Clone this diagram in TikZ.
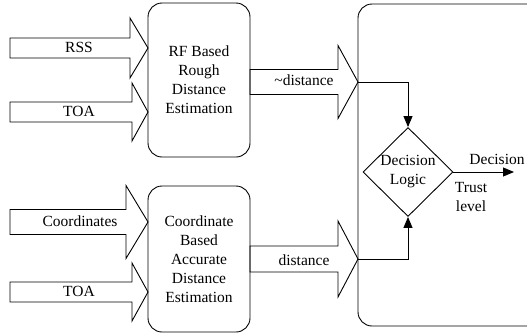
\documentclass[tikz,border=0pt]{standalone}
\usepackage{fontspec}
\setmainfont{Liberation Serif}
\usetikzlibrary{arrows.meta,shapes.geometric}
\tikzset{
  box/.style={draw,line width=0.9pt,rounded corners=14pt,align=center,font=\fontsize{15.5}{19}\selectfont},
  lbl/.style={font=\fontsize{15.5}{19}\selectfont,inner sep=0pt},
  conn/.style={line width=0.9pt,-{Triangle[length=11pt,width=9pt]}},
  barr/.style={draw,line width=0.9pt,line join=miter,fill=white},
}
% x0, head start, tip, yc, half shaft, half head
\newcommand\blockarr[6]{%
  \path[barr] (#1,#4-#5) -- (#2,#4-#5) -- (#2,#4-#6) -- (#3,#4) -- (#2,#4+#6) -- (#2,#4+#5) -- (#1,#4+#5) -- cycle;}
\begin{document}
\begin{tikzpicture}[x=1pt,y=-1pt]
\useasboundingbox (0,0) rectangle (527,335);
% big box
\draw[line width=0.9pt,rounded corners=14pt] (358,4) rectangle (545,326);
% input block arrows
\blockarr{10}{130}{148}{48}{10}{30}
\node[lbl] (rss) at (79,47) {RSS};
\blockarr{10}{132}{148}{112}{10}{29}
\node[lbl] (toa1) at (79,111) {TOA};
\blockarr{10}{126}{148}{222}{12.5}{36.5}
\node[lbl] (coord) at (80,221) {Coordinates};
\blockarr{10}{132}{148}{292}{10}{29}
\node[lbl] (toa2) at (79,291) {TOA};
% output block arrows
\blockarr{250}{338}{358}{82}{12.5}{36.5}
\node[lbl] (td) at (304,80) {\char"007E distance};
\blockarr{250}{338}{358}{259}{13}{38}
\node[lbl] (d) at (304,260) {distance};
\coordinate (t1) at (358,82);
\coordinate (t2) at (358,259);
% processing boxes
\node[box,minimum width=102pt,minimum height=154pt] (rf) at (199,80) {RF Based\\Rough\\Distance\\Estimation};
\node[box,minimum width=102pt,minimum height=146pt] (cb) at (199,259) {Coordinate\\Based\\Accurate\\Distance\\Estimation};
% decision diamond
\node[draw,line width=0.9pt,diamond,minimum width=90pt,minimum height=89pt,inner sep=0pt,align=center,font=\fontsize{15.5}{19}\selectfont] (dl) at (408,172) {Decision\\Logic};
\draw[conn] (t1) -| (dl.north);
\draw[conn] (t2) -| (dl.south);
\coordinate (out) at (514,172);
\draw[conn] (dl.east) -- (out);
\node[lbl] (dec) at (497,159) {Decision};
\node[lbl,align=center,font=\fontsize{15.5}{19}\selectfont] (tl) at (471,197) {Trust\\level};
\end{tikzpicture}
\end{document}
